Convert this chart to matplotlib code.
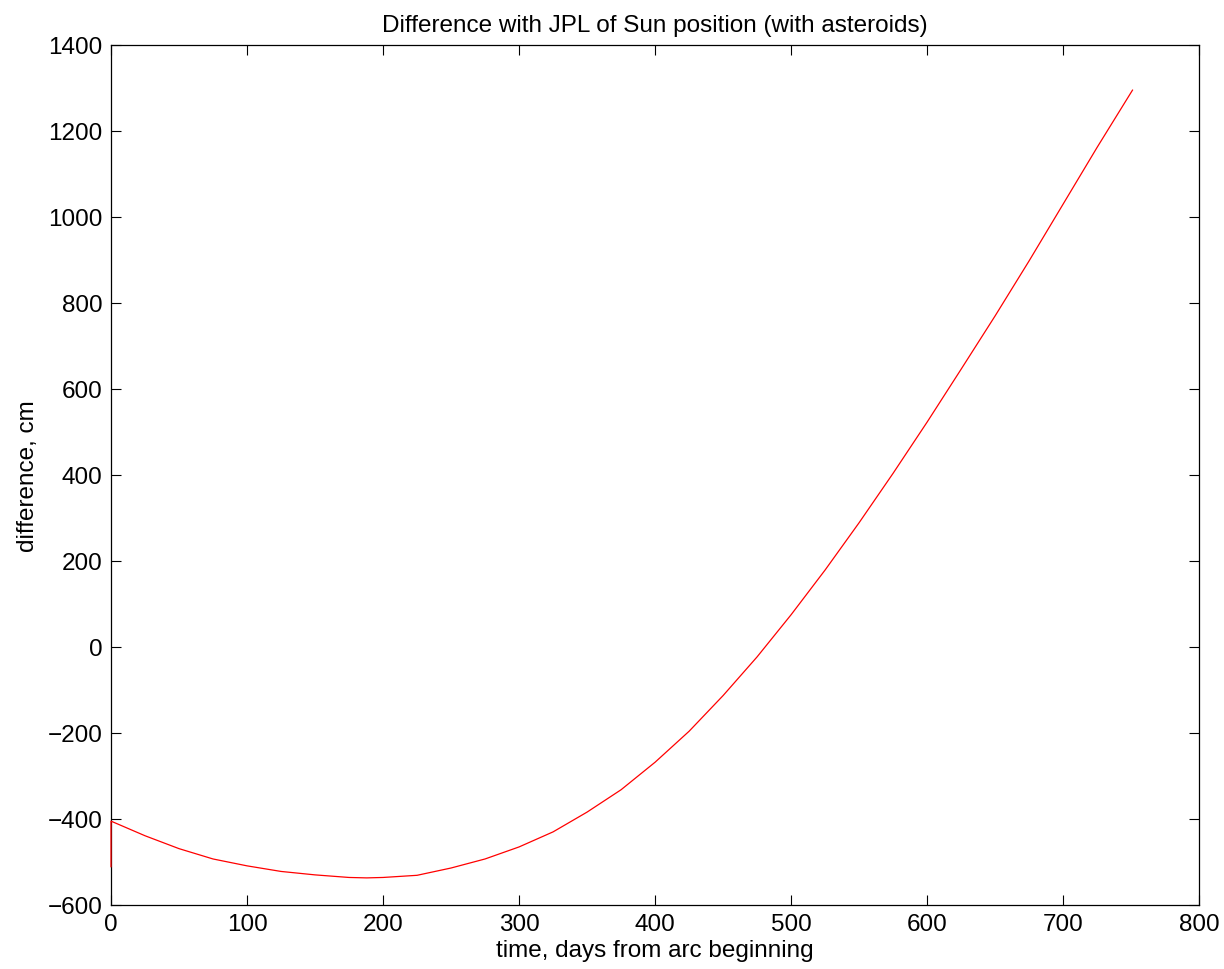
import numpy as np
import matplotlib
matplotlib.use('Agg')
import matplotlib.pyplot as plt

plt.rcParams['font.family'] = ['Liberation Sans', 'DejaVu Sans']

# values (first point: the short jump at day 0)
days = [0, 0, 25, 50, 75, 100, 125, 150, 175, 188, 200, 225, 250, 275, 300,
        325, 350, 375, 400, 425, 450, 475, 500, 525, 550, 575, 600, 625, 650,
        675, 700, 725, 751]
diff_cm = [-511, -405, -439, -469, -493, -509, -522, -530, -536, -537, -536,
           -531, -514, -493, -465, -430, -384, -332, -268, -196, -113, -23, 75,
           179, 289, 404, 523, 646, 770, 898, 1030, 1162, 1295]

fig = plt.figure(figsize=(12.24, 9.70), dpi=100)
ax = fig.add_axes([0.0907, 0.066, 0.889, 0.8866])
ax.plot(days, diff_cm, color='red', linewidth=0.9, zorder=3, clip_on=False)

ax.set_xlim(0, 800)
ax.set_ylim(-600, 1400)
ax.set_xticks(np.arange(0, 801, 100))
ax.set_yticks(np.arange(-600, 1401, 200))
ax.tick_params(direction='in', length=7, width=0.8, top=True, right=True,
               labelsize=17.5, pad=6)
for s in ax.spines.values():
    s.set_linewidth(0.9)

ax.set_xlabel('time, days from arc beginning', fontsize=17.5, labelpad=3)
ax.set_ylabel('difference, cm', fontsize=17.5, labelpad=6)
ax.set_title('Difference with JPL of Sun position (with asteroids)', fontsize=17.5, pad=10)

fig.savefig('out.png', dpi=100)
